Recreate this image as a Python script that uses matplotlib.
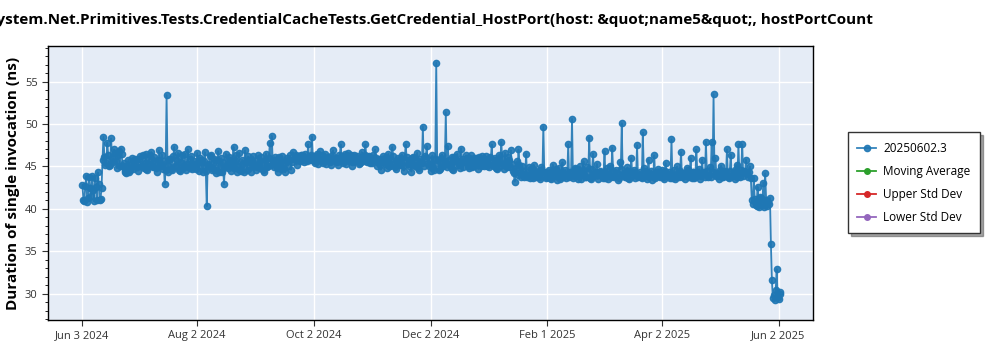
import numpy as np
import pandas as pd
import matplotlib
matplotlib.use("Agg")
import matplotlib.pyplot as plt
from matplotlib.ticker import MultipleLocator

plt.rcParams['font.family'] = ['Open Sans', 'DejaVu Sans']

title = ("System.Net.Primitives.Tests.CredentialCacheTests.GetCredential_HostPort"
         "(host: &quot;name5&quot;, hostPortCount")
series_name = "20250602.3"

# two runs per day (00:00 and 12:00), ns per invocation
# --- first run of each day ---
jun_2024 = [42.8, 40.9, 43.9, 41.3, 42.4, 43.9, 40.9, 42.6, 44.3, 41.0, 42.5,
            48.5, 45.2, 47.8, 45.0, 48.3, 45.5, 46.6, 44.8, 46.8, 47.1, 45.0,
            44.3, 44.2, 45.8, 44.6, 46.0, 45.1]
jul_2024 = [45.8, 44.5, 46.2, 45.0, 44.8, 46.5, 44.6, 45.3, 46.7, 44.9, 45.6,
            44.4, 46.9, 45.2, 44.7, 42.9, 53.4, 44.4, 45.9, 44.6, 47.3, 45.1,
            46.6, 44.5, 46.3, 45.0, 44.6, 47.0, 44.8, 46.2, 45.3]
aug_2024 = [45.2, 46.6, 44.5, 45.8, 44.3, 46.7, 40.3, 45.0, 46.4, 44.6, 45.9,
            44.2, 46.8, 45.1, 44.4, 42.9, 46.5, 44.8, 45.7, 44.9, 47.3, 45.6,
            44.3, 46.6, 44.5, 45.3, 46.9, 44.6, 45.8, 44.4, 46.2]
sep_2024 = [45.1, 44.6, 46.3, 44.8, 45.5, 44.3, 46.5, 45.0, 47.8, 48.6, 44.9,
            45.7, 44.4, 46.1, 44.7, 45.4, 44.3, 46.0, 45.8, 44.6, 46.7, 45.9,
            45.2, 46.2, 45.6, 46.4, 45.5, 46.0, 47.6, 45.7]
oct_2024 = [48.5, 45.6, 46.2, 45.3, 46.8, 45.9, 45.4, 46.5, 45.7, 46.0, 45.2,
            46.9, 45.8, 45.5, 46.3, 47.6, 45.6, 46.1, 45.3, 46.6, 45.9, 45.1,
            46.4, 45.7, 46.0, 45.4, 46.7, 45.8, 47.6, 45.5, 46.2]
nov_2024 = [45.6, 46.3, 47.0, 45.1, 45.9, 44.6, 46.2, 45.3, 44.8, 46.5, 45.0,
            47.3, 45.4, 44.7, 46.0, 45.2, 46.4, 44.5, 47.6, 45.3, 45.8, 44.4,
            46.1, 45.0, 46.6, 44.6, 45.5, 49.7, 46.2, 47.4]
dec_2024 = [45.0, 44.5, 46.3, 44.6, 57.2, 45.8, 44.7, 46.4, 45.3, 51.4, 47.4,
            45.0, 46.1, 44.6, 45.7, 46.5, 45.2, 47.1, 44.9, 45.6, 46.0, 44.8,
            46.3, 45.4, 45.1, 46.0, 44.7, 45.5, 46.2, 45.0, 46.2]
jan_2025 = [45.4, 46.1, 47.6, 45.0, 45.8, 44.7, 46.4, 47.9, 45.3, 46.6, 44.9,
            45.7, 46.9, 44.5, 43.2, 45.6, 47.0, 44.2, 45.1, 43.8, 46.5, 44.0,
            43.6, 44.8, 45.2, 43.7, 44.4, 43.5, 44.9, 49.7, 44.3]
feb_2025 = [43.8, 44.6, 43.5, 45.2, 44.0, 43.4, 44.8, 43.7, 45.5, 44.1, 43.6,
            47.6, 44.3, 50.6, 43.9, 44.7, 43.5, 45.0, 44.2, 45.6, 43.7, 44.9,
            48.4, 43.5, 46.5, 44.1, 45.3, 44.0]
mar_2025 = [44.3, 43.6, 46.8, 44.0, 43.5, 45.1, 47.2, 43.8, 44.6, 43.4, 45.5,
            50.1, 44.2, 43.7, 44.9, 43.5, 46.0, 44.3, 43.6, 47.5, 44.0, 43.8,
            49.0, 44.5, 43.5, 45.8, 44.1, 43.4, 46.3, 43.9, 44.7]
apr_2025 = [43.8, 44.6, 43.5, 45.4, 44.1, 43.6, 48.2, 44.0, 43.5, 45.0, 43.8,
            46.7, 44.2, 43.5, 44.8, 43.7, 46.0, 44.3, 43.6, 47.0, 44.0, 43.5,
            45.8, 44.4, 47.9, 43.8, 44.9, 47.9, 53.5, 46.0]
may_2025 = [44.2, 43.5, 45.1, 43.8, 44.5, 47.0, 43.6, 46.4, 44.0, 43.5, 45.2,
            47.6, 43.8, 47.6, 44.3, 45.8, 43.7, 45.0, 41.0, 43.6, 40.4, 42.6,
            40.2, 41.3, 43.1, 44.2, 40.3, 40.6, 35.8, 29.5, 29.3]
jun_2025 = [32.9, 29.4, 30.2]

# --- second run of each day ---
jun_2024_b = [41.1, 42.7, 40.8, 43.8, 41.5, 42.2, 43.6, 41.0, 42.9, 41.2, 45.8,
              46.1, 45.4, 46.3, 45.2, 46.0, 47.0, 45.6, 46.4, 45.1, 46.5, 45.4,
              44.6, 45.0, 44.4, 45.3, 44.7, 45.9]
jul_2024_b = [44.9, 45.9, 45.1, 46.3, 45.4, 44.7, 45.8, 46.4, 45.0, 46.1, 44.8,
              45.7, 45.0, 46.4, 45.6, 44.6, 45.2, 45.9, 44.7, 46.2, 45.0, 45.8,
              44.6, 45.5, 44.8, 46.5, 45.3, 44.9, 45.9, 44.7, 45.6]
aug_2024_b = [44.7, 45.5, 46.0, 44.9, 45.6, 44.5, 45.3, 46.2, 44.8, 45.4, 44.6,
              45.7, 44.4, 46.0, 45.5, 44.9, 45.2, 46.1, 44.5, 45.6, 44.8, 46.3,
              45.1, 44.6, 45.8, 44.4, 45.5, 46.2, 44.9, 45.6, 45.0]
sep_2024_b = [45.7, 44.9, 45.3, 46.1, 44.6, 45.8, 44.9, 46.0, 45.2, 45.6, 46.1,
              44.8, 45.5, 45.0, 46.2, 44.8, 45.6, 45.1, 46.3, 45.5, 45.9, 46.4,
              45.7, 45.9, 46.3, 45.8, 46.5, 45.6, 46.1, 46.3]
oct_2024_b = [46.0, 45.4, 46.5, 45.9, 45.6, 46.3, 45.8, 45.3, 46.1, 45.5, 46.4,
              45.7, 46.0, 45.2, 45.9, 46.2, 45.4, 46.5, 45.8, 45.6, 46.3, 45.5,
              45.9, 46.2, 45.3, 46.0, 45.6, 46.4, 45.7, 46.1, 45.4]
nov_2024_b = [45.4, 45.8, 46.0, 45.6, 45.2, 45.9, 45.5, 46.1, 45.7, 45.0, 45.8,
              46.2, 44.9, 45.6, 45.3, 46.0, 45.1, 45.7, 46.1, 45.0, 45.5, 46.0,
              45.2, 45.7, 44.8, 45.9, 45.4, 45.1, 46.0, 45.3]
dec_2024_b = [45.7, 45.2, 44.8, 45.9, 45.4, 44.6, 46.0, 45.1, 45.6, 44.9, 45.8,
              45.3, 44.7, 46.1, 45.2, 45.6, 44.8, 45.9, 45.5, 46.3, 45.0, 45.7,
              44.9, 46.0, 45.6, 45.2, 46.1, 45.0, 45.4, 45.8, 45.1]
jan_2025_b = [44.9, 45.7, 45.2, 46.0, 44.8, 45.5, 45.0, 45.9, 44.7, 45.4, 46.1,
              44.9, 45.3, 44.2, 44.8, 44.0, 45.2, 43.7, 44.5, 44.1, 43.8, 44.9,
              44.2, 43.6, 44.5, 44.0, 43.7, 44.6, 43.9, 44.3, 43.6]
feb_2025_b = [44.2, 43.6, 44.5, 43.9, 44.7, 44.1, 43.5, 44.3, 43.8, 44.6, 44.0,
              43.7, 44.4, 43.6, 44.8, 43.9, 44.2, 43.5, 44.6, 44.0, 43.8, 44.4,
              43.6, 44.7, 43.9, 44.3, 43.5, 44.5]
mar_2025_b = [43.9, 44.4, 43.6, 44.8, 44.1, 43.7, 44.5, 43.9, 44.2, 43.6, 44.7,
              44.0, 43.8, 44.5, 43.6, 44.3, 43.9, 44.6, 44.0, 43.7, 44.4, 43.6,
              44.8, 43.9, 44.2, 43.7, 44.5, 44.0, 43.6, 44.3, 43.9]
apr_2025_b = [44.2, 43.7, 44.5, 43.9, 44.3, 44.0, 43.6, 44.6, 43.8, 44.2, 44.5,
              43.7, 44.1, 43.9, 44.6, 44.0, 43.6, 44.4, 43.8, 44.3, 44.7, 43.9,
              44.2, 43.7, 44.5, 44.0, 43.8, 44.4, 44.1, 43.9]
may_2025_b = [43.9, 44.6, 43.7, 44.4, 44.0, 43.8, 44.5, 43.9, 44.3, 44.7, 43.8,
              44.2, 44.6, 43.9, 44.5, 44.1, 44.3, 43.6, 40.6, 41.2, 40.3, 40.9,
              41.4, 40.5, 40.2, 41.1, 40.8, 41.3, 31.6, 29.8, 30.4]
jun_2025_b = [29.6, 30.0]

first_run = (jun_2024 + jul_2024 + aug_2024 + sep_2024 + oct_2024 + nov_2024
             + dec_2024 + jan_2025 + feb_2025 + mar_2025 + apr_2025 + may_2025
             + jun_2025)
second_run = (jun_2024_b + jul_2024_b + aug_2024_b + sep_2024_b + oct_2024_b
              + nov_2024_b + dec_2024_b + jan_2025_b + feb_2025_b + mar_2025_b
              + apr_2025_b + may_2025_b + jun_2025_b)

runs = pd.concat([
    pd.Series(first_run, index=pd.date_range("2024-06-03 00:00", periods=len(first_run), freq="D")),
    pd.Series(second_run, index=pd.date_range("2024-06-03 12:00", periods=len(second_run), freq="D")),
]).sort_index()

tick_dates = pd.to_datetime(["2024-06-03", "2024-08-02", "2024-10-02", "2024-12-02",
                             "2025-02-01", "2025-04-02", "2025-06-02"])
tick_labels = ["Jun 3 2024", "Aug 2 2024", "Oct 2 2024", "Dec 2 2024",
               "Feb 1 2025", "Apr 2 2025", "Jun 2 2025"]

fig = plt.figure(figsize=(10, 3.5), dpi=100)
ax = fig.add_axes([0.048, 0.0857, 0.765, 0.783])
ax.set_facecolor("#E5ECF6")

ax.plot(runs.index, runs.values, color="#1f77b4", lw=1.3, marker="o", markersize=4.5,
        alpha=0.9, label=series_name, zorder=3)
# statistics series have no values for this run
ax.plot([], [], color="#2ca02c", lw=1.3, marker="o", markersize=4, label="Moving Average")
ax.plot([], [], color="#d62728", lw=1.3, marker="o", markersize=4, label="Upper Std Dev")
ax.plot([], [], color="#9467bd", lw=1.3, marker="o", markersize=4, label="Lower Std Dev")

ax.set_xlim(pd.Timestamp("2024-05-16"), pd.Timestamp("2025-06-20"))
ax.set_ylim(26.9, 59.2)
ax.set_xticks(tick_dates)
ax.set_xticklabels(tick_labels)
ax.yaxis.set_major_locator(MultipleLocator(5))
ax.yaxis.set_minor_locator(MultipleLocator(1))
ax.tick_params(axis="both", labelsize=8, colors="#333333", length=4)
ax.tick_params(axis="y", which="minor", length=2)
ax.grid(True, which="major", color="white", lw=1)
ax.set_axisbelow(True)
for sp in ax.spines.values():
    sp.set_color("black")
    sp.set_linewidth(1)

ax.set_ylabel("Duration of single invocation (ns)", fontsize=11, fontweight="bold")
ax.yaxis.set_label_coords(-0.037, 0.5)
ax.set_title(title, fontsize=11, fontweight="bold", pad=16)

leg = ax.legend(loc="center left", bbox_to_anchor=(1.0458, 0.5), borderaxespad=0,
                fontsize=8.5, frameon=True, fancybox=False, shadow=True,
                edgecolor="#333333", handlelength=1.6, handletextpad=0.6,
                borderpad=0.8, labelspacing=0.85)
leg.get_frame().set_linewidth(1)

fig.savefig("out.png", dpi=100)
